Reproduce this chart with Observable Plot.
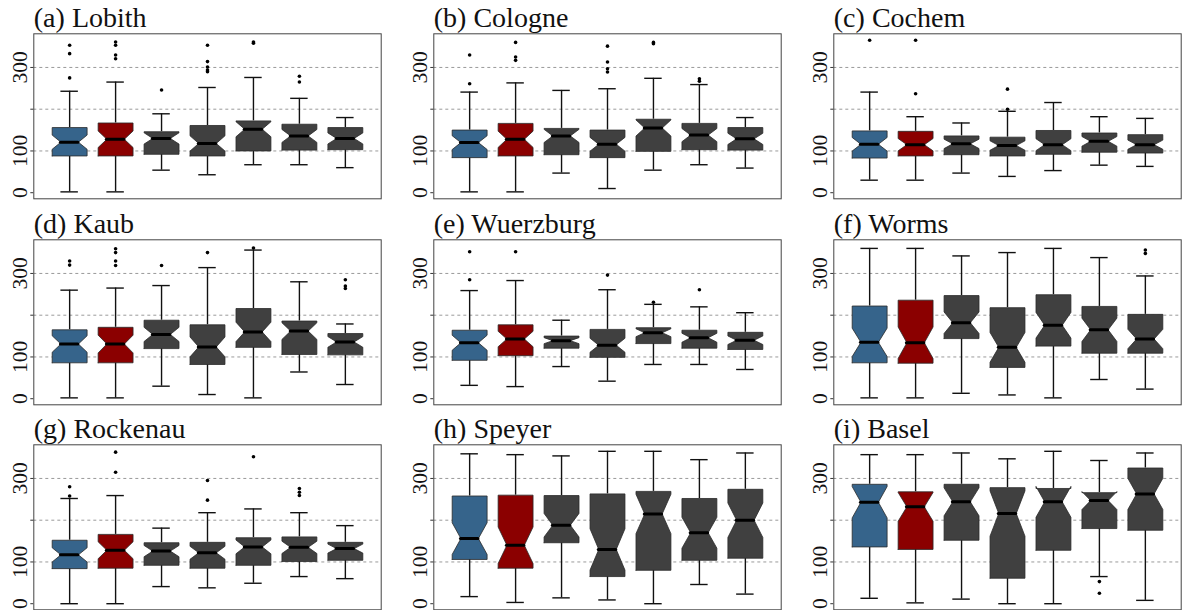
<!DOCTYPE html>
<html><head><meta charset="utf-8">
<script src="https://cdn.jsdelivr.net/npm/d3@7"></script>
<script src="https://cdn.jsdelivr.net/npm/@observablehq/plot@0.6"></script>
<style>
body{margin:0;background:#fff;width:1186px;height:610px;overflow:hidden;position:relative;font-family:"Liberation Serif"}
.panel{position:absolute}
</style></head><body><div id="chart"></div>
<script>
const titles = ["(a) Lobith","(b) Cologne","(c) Cochem","(d) Kaub","(e) Wuerzburg","(f) Worms","(g) Rockenau","(h) Speyer","(i) Basel"];
const boxColors = ["#36648B","#8B0000","#404040","#404040","#404040","#404040","#404040"];
const yTickValues = [0,100,300];
const gridValues = [100,200,300];
const nYears = 40;
// each box: [lower whisker, Q1, median, Q3, upper whisker]; outliers: [box, value]
const lobith = [[2,88,121,156,243],[2,88,128,167,265],[54,92,130,146,189],[43,88,118,161,252],[67,100,152,172,276],[67,102,136,164,226],[60,103,130,156,180]];
const lobithOut = [[1,275],[1,333],[1,353],[2,321],[2,330],[2,353],[2,361],[3,246],[4,290],[4,294],[4,301],[4,314],[4,353],[5,358],[5,361],[6,265],[6,279]];
const cologne = [[2,84,120,150,241],[2,88,128,166,263],[47,91,136,154,245],[10,84,116,150,249],[54,99,155,176,274],[67,103,138,166,259],[59,102,129,156,180]];
const cologneOut = [[1,261],[1,330],[2,317],[2,325],[2,360],[4,289],[4,297],[4,313],[4,351],[5,357],[5,360],[6,267],[6,273]];
const cochem = [[30,83,116,148,241],[30,88,115,147,182],[47,91,117,136,167],[39,88,113,133,195],[53,92,115,149,216],[66,97,123,143,182],[63,95,115,139,178]];
const cochemOut = [[1,365],[2,237],[2,365],[4,200],[4,248]];
const kaub = [[2,86,131,165,260],[2,86,131,171,265],[30,120,154,188,271],[10,82,124,177,314],[2,123,160,216,356],[64,106,162,186,280],[34,105,136,156,179]];
const kaubOut = [[1,320],[1,330],[2,319],[2,330],[2,350],[2,359],[3,319],[4,350],[5,361],[7,264],[7,270],[7,285]];
const wuerzburg = [[32,92,134,164,259],[29,103,143,177,283],[77,121,139,150,188],[42,99,128,166,261],[82,132,158,170,226],[82,121,146,164,220],[70,118,140,159,206]];
const wuerzburgOut = [[1,285],[1,352],[2,352],[4,296],[5,231],[6,261]];
const worms = [[2,86,135,222,360],[2,85,134,236,360],[13,144,182,247,342],[9,75,123,218,350],[2,126,176,249,360],[46,109,165,221,338],[23,109,143,202,294]];
const wormsOut = [[7,348],[7,356]];
const rockenau = [[0,84,117,152,252],[0,85,128,166,259],[41,92,126,146,181],[38,85,122,147,218],[49,92,136,158,227],[65,101,135,160,218],[60,104,132,147,187]];
const rockenauOut = [[1,258],[1,280],[2,315],[2,363],[4,248],[4,295],[5,352],[6,259],[6,267],[6,276]];
const speyer = [[17,106,156,258,359],[3,85,140,260,357],[14,146,188,259,354],[9,65,130,263,365],[0,80,215,269,365],[46,104,170,252,345],[23,109,200,274,361]];
const speyerOut = [];
const basel = [[13,136,243,286,357],[2,130,232,268,357],[11,152,244,286,361],[0,61,216,278,347],[0,128,244,276,365],[65,180,247,266,343],[8,176,263,325,361]];
const baselOut = [[6,25],[6,53]];

const stations = [[lobith,lobithOut],[cologne,cologneOut],[cochem,cochemOut],[kaub,kaubOut],[wuerzburg,wuerzburgOut],[worms,wormsOut],[rockenau,rockenauOut],[speyer,speyerOut],[basel,baselOut]];

const FONT = "Liberation Serif";
const W = 0.38;
function makePanel(title, stats, outliers) {
  const boxes = stats.map((s, i) => {
    const [lo, q1, med, q3, hi] = s;
    const k = 1.58 * (q3 - q1) / Math.sqrt(nYears);
    return {x: i + 1, lo, q1, med, q3, hi, nlo: med - k, nhi: med + k, color: boxColors[i]};
  });
  const poly = boxes.flatMap(b => [[-W,b.q1],[-W,b.nlo],[-W/2,b.med],[-W,b.nhi],[-W,b.q3],[W,b.q3],[W,b.nhi],[W/2,b.med],[W,b.nlo],[W,b.q1],[-W,b.q1]]
    .map(([d, y]) => ({x: b.x + d, y, id: b.x, color: b.color})));
  return Plot.plot({
    width: 386, height: 204,
    marginLeft: 33.3, marginRight: 5.3, marginTop: 33.3, marginBottom: 5.7,
    x: {domain: [0.22, 7.78], axis: null},
    y: {domain: [-14.6, 380.6], axis: null},
    color: {type: "identity"},
    style: {fontFamily: FONT, background: "white", overflow: "visible"},
    marks: [
      Plot.ruleY(gridValues, {stroke: "#9a9a9a", strokeDasharray: "3,3", strokeWidth: 1}),
      Plot.axisY({ticks: [0,100,200,300], tickSize: 3, tickFormat: () => "", label: null, stroke: "#333"}),
      Plot.text(yTickValues, {frameAnchor: "left", y: d => d, text: d => String(d), rotate: -90, dx: -13.5, fontSize: 21.5, fontFamily: FONT, textAnchor: "middle", lineAnchor: "middle", fill: "#111"}),
      Plot.text([title], {frameAnchor: "top-left", text: d => d, dy: -6.5, fontSize: 28, fontFamily: FONT, textAnchor: "start", lineAnchor: "bottom", fill: "#111"}),
      Plot.ruleX(boxes, {x: "x", y1: "lo", y2: "q1", stroke: "#111", strokeWidth: 1.4}),
      Plot.ruleX(boxes, {x: "x", y1: "q3", y2: "hi", stroke: "#111", strokeWidth: 1.4}),
      Plot.ruleY(boxes, {y: "lo", x1: d => d.x - W/2, x2: d => d.x + W/2, stroke: "#111", strokeWidth: 1.4}),
      Plot.ruleY(boxes, {y: "hi", x1: d => d.x - W/2, x2: d => d.x + W/2, stroke: "#111", strokeWidth: 1.4}),
      Plot.line(poly, {x: "x", y: "y", z: "id", fill: "color", stroke: "#2a2a2a", strokeWidth: 0.8, curve: "linear"}),
      Plot.ruleY(boxes, {y: "med", x1: d => d.x - W/2, x2: d => d.x + W/2, stroke: "#000", strokeWidth: 3, strokeLinecap: "round"}),
      Plot.dot(outliers, {x: d => d[0], y: d => d[1], r: 1.8, fill: "#000", stroke: null}),
      Plot.frame({stroke: "#444", strokeWidth: 1})
    ]
  });
}

const root = document.getElementById("chart");
stations.forEach(([stats, out], i) => {
  const col = i % 3, row = Math.floor(i / 3);
  const div = document.createElement("div");
  div.className = "panel";
  div.style.left = (col * 400) + "px";
  div.style.top = (row * 205.7) + "px";
  div.appendChild(makePanel(titles[i], stats, out));
  root.appendChild(div);
});
</script></body></html>
